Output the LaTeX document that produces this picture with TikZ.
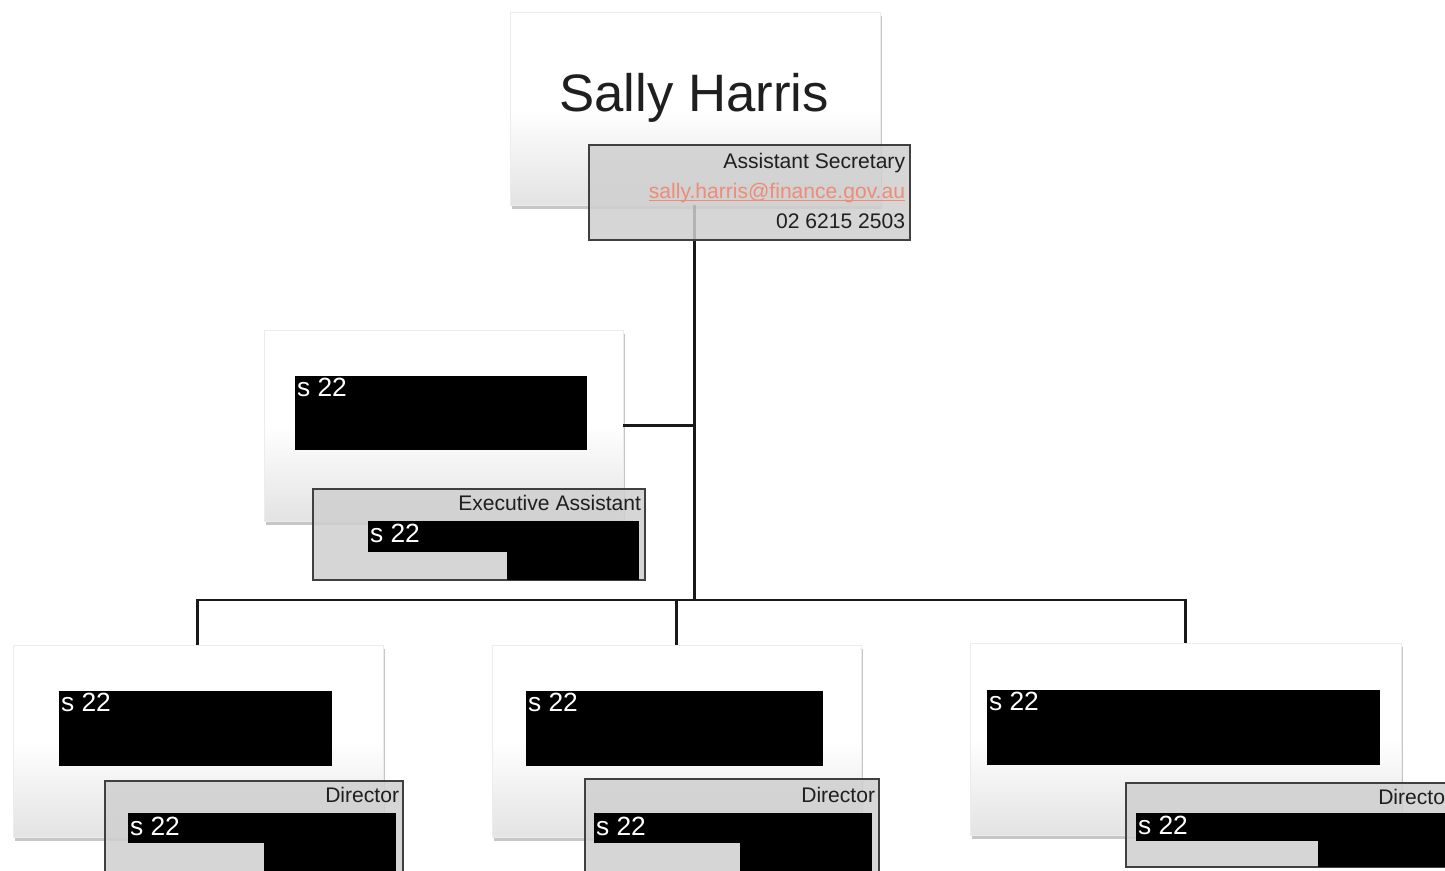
\documentclass[tikz,border=0pt]{standalone}
\usepackage{fontspec}
\setmainfont{Liberation Sans}
\usetikzlibrary{shadows,calc}
\definecolor{infogray}{RGB}{207,207,207}
\definecolor{framegray}{RGB}{64,64,64}
\definecolor{maillink}{RGB}{238,140,118}
\newcommand\linkline[1]{\setbox0\hbox{#1}\rlap{\rule[-1.6pt]{\wd0}{0.6pt}}\box0}
\tikzset{
  card/.style={anchor=north west, inner sep=0pt, outer sep=0pt,
    draw=gray!15, line width=0.4pt,
    top color=white, bottom color=gray!22, middle color=white,
    drop shadow={shadow xshift=1pt, shadow yshift=-2.5pt, opacity=0.45, fill=gray}},
  infobox/.style={anchor=north west, inner sep=0pt, outer sep=0pt,
    draw=framegray, line width=0.8pt, fill=infogray, fill opacity=0.85},
  redact/.style={anchor=north west, inner sep=0pt, outer sep=0pt, fill=black},
  redtext/.style={text=white, font=\fontsize{15}{18}\selectfont, inner sep=1pt},
  roletext/.style={anchor=north east, font=\fontsize{12}{15}\selectfont, inner sep=2pt, text=black!88},
  link/.style={line width=1.7pt, black!90},
}
\begin{document}
\begin{tikzpicture}[x=0.02cm, y=-0.02cm]
    \useasboundingbox (0,0) rectangle (1445,871);
    \clip (0,0) rectangle (1445,871);

    % Position cards
    \node[card, minimum width=7.4cm, minimum height=3.86cm] (top) at (510,12) {};
    \node[card, minimum width=7.18cm, minimum height=3.82cm] (asst) at (264,330) {};
    \node[card, minimum width=7.4cm, minimum height=3.84cm] (dirL) at (13,645) {};
    \node[card, minimum width=7.38cm, minimum height=3.84cm] (dirM) at (492,645) {};
    \node[card, minimum width=8.62cm, minimum height=3.84cm] (dirR) at (970,643) {};
    \node[font=\fontsize{30}{36}\selectfont, text=black!88] (name) at (694,98) {Sally Harris};

    % Reporting lines
    \coordinate (bus) at (top.south |- 0,600);
    \draw[link] (top.south) -- (bus);
    \draw[link] (asst.east) -- (asst.east -| bus);
    \draw[link] (dirL.north) |- (dirR.north |- bus) -- (dirR.north);
    \draw[link] (dirM.north |- bus) -- (dirM.north);

    % Top card details
    \node[infobox, minimum width=6.42cm, minimum height=1.9cm] (topinfo) at (589,145) {};
    \node[roletext, align=right, font=\fontsize{12}{17.3}\selectfont] (topdetail)
        at ($(topinfo.north east)+(-1,4)$)
        {Assistant Secretary\\ \textcolor{maillink}{\linkline{sally.harris@finance.gov.au}}\\ 02 6215 2503};

    % Executive assistant
    \node[redact, minimum width=5.84cm, minimum height=1.48cm] (asstpos) at (295,376) {};
    \node[redtext, anchor=north west] (asstpostext) at (asstpos.north west) {s 22};
    \node[infobox, minimum width=6.64cm, minimum height=1.82cm] (asstinfo) at (313,489) {};
    \node[roletext] (asstrole) at ($(asstinfo.north east)+(0,2)$) {Executive Assistant};
    \node[redact, minimum width=5.42cm, minimum height=0.62cm] (asstred) at (368,521) {};
    \node[redact, minimum width=2.64cm, minimum height=0.56cm] (asstredb) at (507,552) {};
    \node[redtext, anchor=west] (asstname) at ($(asstred.west)+(0,-3)$) {s 22};

    % Left director
    \node[redact, minimum width=5.46cm, minimum height=1.5cm] (dirLpos) at (59,691) {};
    \node[redtext, anchor=north west] (dirLpostext) at (dirLpos.north west) {s 22};
    \node[infobox, minimum width=5.96cm, minimum height=2cm] (dirLinfo) at (105,781) {};
    \node[roletext] (dirLrole) at ($(dirLinfo.north east)+(0,2)$) {Director};
    \node[redact, minimum width=5.36cm, minimum height=0.6cm] (dirLred) at (128,813) {};
    \node[redact, minimum width=2.64cm, minimum height=0.6cm] (dirLredb) at (264,843) {};
    \node[redtext, anchor=west] (dirLname) at ($(dirLred.west)+(0,-2)$) {s 22};

    % Middle director
    \node[redact, minimum width=5.94cm, minimum height=1.5cm] (dirMpos) at (526,691) {};
    \node[redtext, anchor=north west] (dirMpostext) at (dirMpos.north west) {s 22};
    \node[infobox, minimum width=5.88cm, minimum height=2cm] (dirMinfo) at (585,779) {};
    \node[roletext] (dirMrole) at ($(dirMinfo.north east)+(0,4)$) {Director};
    \node[redact, minimum width=5.56cm, minimum height=0.6cm] (dirMred) at (594,813) {};
    \node[redact, minimum width=2.64cm, minimum height=0.6cm] (dirMredb) at (740,843) {};
    \node[redtext, anchor=west] (dirMname) at ($(dirMred.west)+(0,-2)$) {s 22};

    % Right director
    \node[redact, minimum width=7.86cm, minimum height=1.5cm] (dirRpos) at (987,690) {};
    \node[redtext, anchor=north west] (dirRpostext) at (dirRpos.north west) {s 22};
    \node[infobox, minimum width=6.6cm, minimum height=1.68cm] (dirRinfo) at (1126,783) {};
    \node[roletext] (dirRrole) at ($(dirRinfo.north east)+(0,2)$) {Director};
    \node[redact, minimum width=6.4cm, minimum height=0.56cm] (dirRred) at (1136,813) {};
    \node[redact, minimum width=2.8cm, minimum height=0.52cm] (dirRredb) at (1318,841) {};
    \node[redtext, anchor=west] (dirRname) at ($(dirRred.west)+(0,-2)$) {s 22};
\end{tikzpicture}
\end{document}
